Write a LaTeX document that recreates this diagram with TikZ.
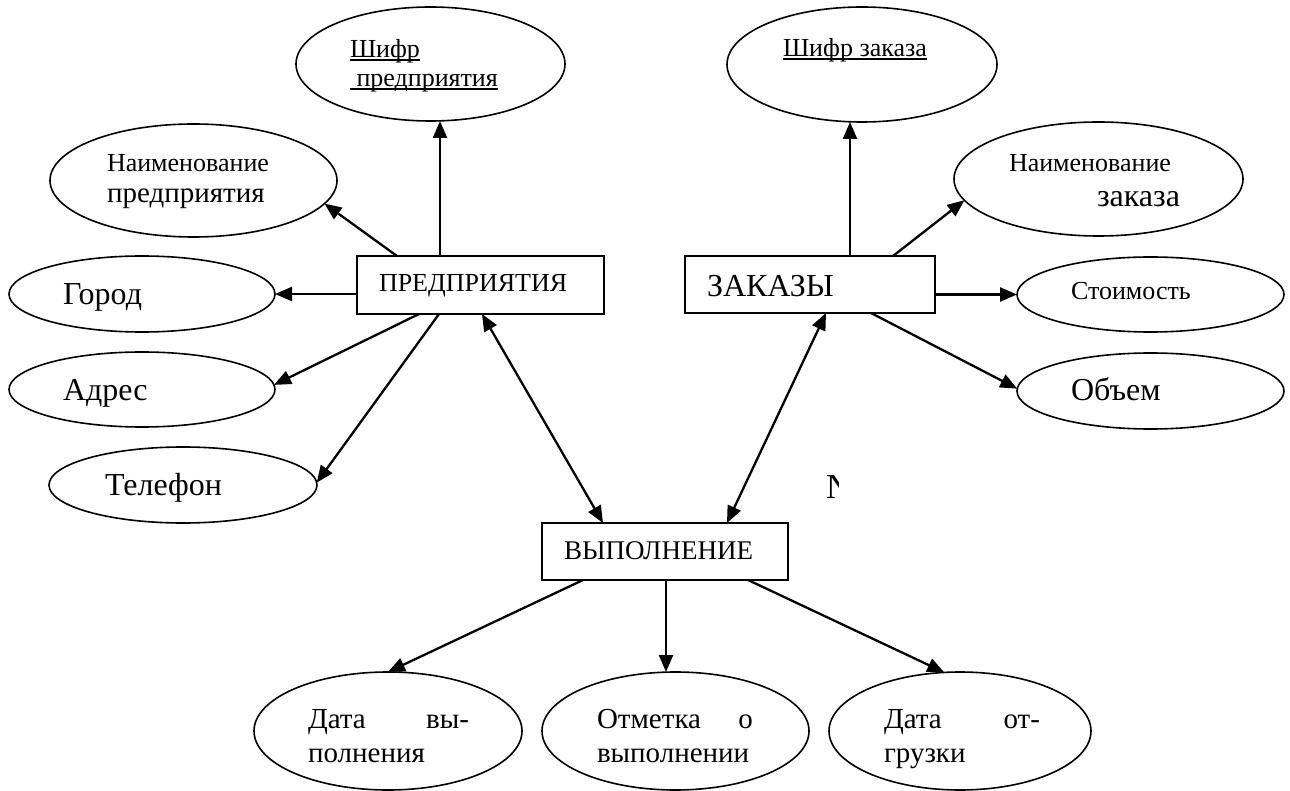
\documentclass[tikz,border=0pt]{standalone}
\usepackage{fontspec}
\setmainfont{Liberation Serif}
\usetikzlibrary{shapes.geometric,arrows.meta,calc}
\newcommand\myul[1]{\setbox0\hbox{#1}\rlap{\rule[-3pt]{\wd0}{1.6pt}}\box0}
\tikzset{
  ell/.style={draw, ellipse, line width=1.6pt, inner sep=0pt, outer sep=0pt},
  ebox/.style={draw, rectangle, line width=2pt, inner sep=0pt, outer sep=0pt},
  arr/.style={line width=2.3pt, -{Triangle[length=17pt,width=14pt]}},
  darr/.style={line width=2.3pt, {Triangle[length=17pt,width=14pt]}-{Triangle[length=17pt,width=14pt]}},
  txt/.style={anchor=base west, inner sep=0pt, outer sep=0pt, font=\fontsize{26}{34}\selectfont},
  mtxt/.style={anchor=base west, inner sep=0pt, outer sep=0pt, font=\fontsize{29}{36}\selectfont},
  btxt/.style={anchor=base west, inner sep=0pt, outer sep=0pt, font=\fontsize{32}{40}\selectfont}
}
\begin{document}
\begin{tikzpicture}[x=1pt,y=-1pt]
\useasboundingbox (0,0) rectangle (1290,791);
% ellipses
\node[ell, minimum width=269, minimum height=114] (shp) at (430.5,64) {};
\node[ell, minimum width=287, minimum height=113] (np) at (193.5,180.5) {};
\node[ell, minimum width=266, minimum height=76] (gor) at (142,294) {};
\node[ell, minimum width=266, minimum height=75] (adr) at (142,389.5) {};
\node[ell, minimum width=268, minimum height=76] (tel) at (183,485) {};
\node[ell, minimum width=270, minimum height=115] (shz) at (862,64.5) {};
\node[ell, minimum width=289, minimum height=114] (nz) at (1098.5,179) {};
\node[ell, minimum width=267, minimum height=75] (sto) at (1150.5,294.5) {};
\node[ell, minimum width=267, minimum height=76] (obm) at (1150.5,391) {};
\node[ell, minimum width=268, minimum height=118] (dv) at (388,731) {};
\node[ell, minimum width=267, minimum height=118] (ov) at (675.5,731) {};
\node[ell, minimum width=262, minimum height=118] (dg) at (960,731) {};
% boxes
\node[ebox, minimum width=247, minimum height=58] (pred) at (480.5,285) {};
\node[ebox, minimum width=250, minimum height=57] (zak) at (810,284.5) {};
\node[ebox, minimum width=246, minimum height=57] (vyp) at (665,551.5) {};
% texts
\node[txt] (t1a) at (350,58) {\myul{Шифр}};
\node[txt] (t1b) at (350,87) {\myul{\ предприятия}};
\node[txt] (t2a) at (107,172) {Наименование};
\node[mtxt] (t2b) at (107,203) {предприятия};
\node[btxt] (t3) at (63,305) {Город};
\node[btxt] (t4) at (63,400) {Адрес};
\node[btxt] (t5) at (105,495) {Телефон};
\node[txt] (t6) at (379,292) {ПРЕДПРИЯТИЯ};
\node[btxt] (t7) at (707,297) {ЗАКАЗЫ};
\node[txt] (t8) at (783,57) {\myul{Шифр заказа}};
\node[txt] (t9a) at (1009,172) {Наименование};
\node[btxt] (t9b) at (1097,207) {заказа};
\node[txt] (t10) at (1071,300) {Стоимость};
\node[btxt] (t11) at (1071,400) {Объем};
\node[txt, font=\fontsize{27}{34}\selectfont] (t12) at (564,559) {ВЫПОЛНЕНИЕ};
\node[mtxt] (t13a) at (308,728) {\makebox[161pt][l]{Дата\hfill вы-}};
\node[mtxt] (t13b) at (308,762) {полнения};
\node[mtxt] (t14a) at (597,728) {\makebox[156pt][l]{Отметка\hfill о}};
\node[mtxt] (t14b) at (597,762) {выполнении};
\node[mtxt] (t15a) at (884,728) {\makebox[156pt][l]{Дата\hfill от-}};
\node[mtxt] (t15b) at (884,762) {грузки};
\begin{scope}
\clip (820,465) rectangle (838,510);
\node[anchor=base west, inner sep=0pt, font=\fontsize{35}{40}\selectfont] (nn) at (826,498) {N};
\end{scope}
% connectors
\coordinate (p1) at ($(pred.north west)+(83,0)$);
\coordinate (p2) at ($(pred.north west)+(40,0)$);
\coordinate (p3) at ($(pred.south west)+(62,0)$);
\coordinate (p4) at ($(pred.south west)+(82,0)$);
\coordinate (p5) at ($(pred.south west)+(125,0)$);
\coordinate (z1) at ($(zak.north west)+(165,0)$);
\coordinate (z2) at ($(zak.north west)+(208,0)$);
\coordinate (z3) at ($(zak.south west)+(186,0)$);
\coordinate (z4) at ($(zak.south west)+(141,0)$);
\coordinate (v1) at ($(vyp.north west)+(61,0)$);
\coordinate (v2) at ($(vyp.north west)+(185,0)$);
\coordinate (v3) at ($(vyp.south west)+(41,0)$);
\coordinate (v4) at ($(vyp.south west)+(124,0)$);
\coordinate (v5) at ($(vyp.south west)+(206,0)$);
\draw[arr] (p1) -- (p1 |- shp.south);
\draw[arr] (p2) -- (np.-10.6);
\draw[arr] (pred.west |- gor.east) -- (gor.east);
\draw[arr] (p3) -- (adr.2);
\draw[arr] (p4) -- (tel.1);
\draw[darr] (p5) -- (v1);
\draw[arr] (z1) -- (z1 |- shz.south);
\draw[arr] (z2) -- (nz.189);
\draw[arr] (zak.east |- sto.west) -- (sto.west);
\draw[arr] (z3) -- (obm.179);
\draw[darr] (z4) -- (v2);
\draw[arr] (v3) -- (dv.north);
\draw[arr] (v4) -- (v4 |- ov.north);
\draw[arr] (v5) -- (dg.105.4);
\end{tikzpicture}
\end{document}
